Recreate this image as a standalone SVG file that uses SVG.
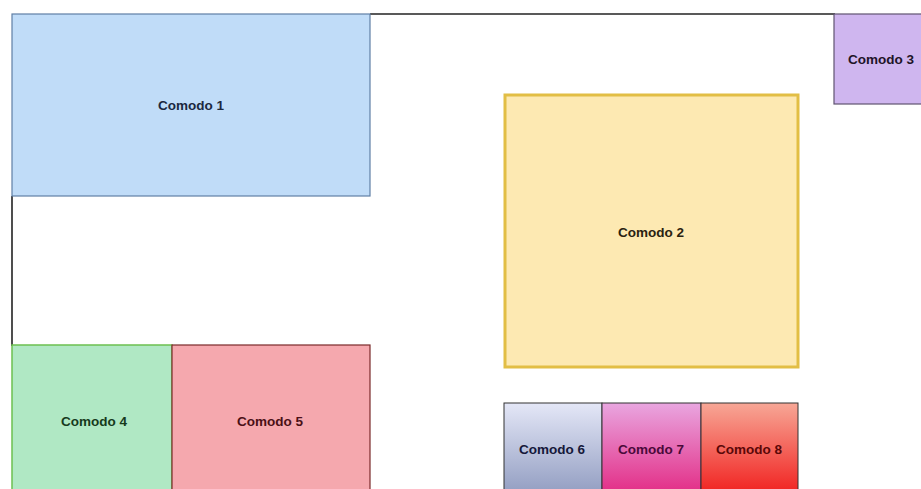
<svg xmlns="http://www.w3.org/2000/svg" width="921" height="489" viewBox="0 0 921 489">
<style>
text{font-family:"Liberation Sans",Arial,sans-serif;font-size:13.5px;font-weight:bold;text-anchor:middle;dominant-baseline:central}
.wall{stroke:#222;stroke-width:1.6;fill:none}
</style>
<defs>
<linearGradient id="g6" x1="0" y1="0" x2="0" y2="1"><stop offset="0" stop-color="#e4e7f7"/><stop offset="1" stop-color="#8a96bc"/></linearGradient>
<linearGradient id="g7" x1="0" y1="0" x2="0" y2="1"><stop offset="0" stop-color="#e9a6e0"/><stop offset="1" stop-color="#e2207c"/></linearGradient>
<linearGradient id="g8" x1="0" y1="0" x2="0" y2="1"><stop offset="0" stop-color="#f7a796"/><stop offset="1" stop-color="#f01414"/></linearGradient>
</defs>
<rect width="921" height="489" fill="#ffffff"/>
<g id="walls">
<path class="wall" d="M370,14 H835"/>
<path class="wall" d="M12,196 V346"/>
</g>
<g id="comodo1"><rect x="12" y="14" width="358" height="182" fill="#c0dcf8" stroke="#5f7fa6" stroke-width="1.2"/><text x="191" y="105" fill="#1b2840">Comodo 1</text></g>
<g id="comodo2"><rect x="505" y="95" width="293" height="272" fill="#fde9b2" stroke="#e2be45" stroke-width="3"/><text x="651" y="232" fill="#2a2210">Comodo 2</text></g>
<g id="comodo3"><rect x="834" y="14" width="100" height="90" fill="#cfb6ef" stroke="#5f5470" stroke-width="1.2"/><text x="881" y="59" fill="#1e1428">Comodo 3</text></g>
<g id="comodo4"><rect x="12" y="345" width="160" height="160" fill="#b0e8c4" stroke="#6cc050" stroke-width="1.5"/><text x="94" y="421" fill="#163a1c">Comodo 4</text></g>
<g id="comodo5"><rect x="172" y="345" width="198" height="160" fill="#f5a8ae" stroke="#7a2a2a" stroke-width="1.2"/><text x="270" y="421" fill="#4a1016">Comodo 5</text></g>
<g id="comodo6"><rect x="504" y="403" width="98" height="100" fill="url(#g6)" stroke="#333" stroke-width="1"/><text x="552" y="449" fill="#15183a">Comodo 6</text></g>
<g id="comodo7"><rect x="602" y="403" width="99" height="100" fill="url(#g7)" stroke="#333" stroke-width="1"/><text x="651" y="449" fill="#4a0a3a">Comodo 7</text></g>
<g id="comodo8"><rect x="701" y="403" width="97" height="100" fill="url(#g8)" stroke="#333" stroke-width="1"/><text x="749" y="449" fill="#5a0808">Comodo 8</text></g>
</svg>
